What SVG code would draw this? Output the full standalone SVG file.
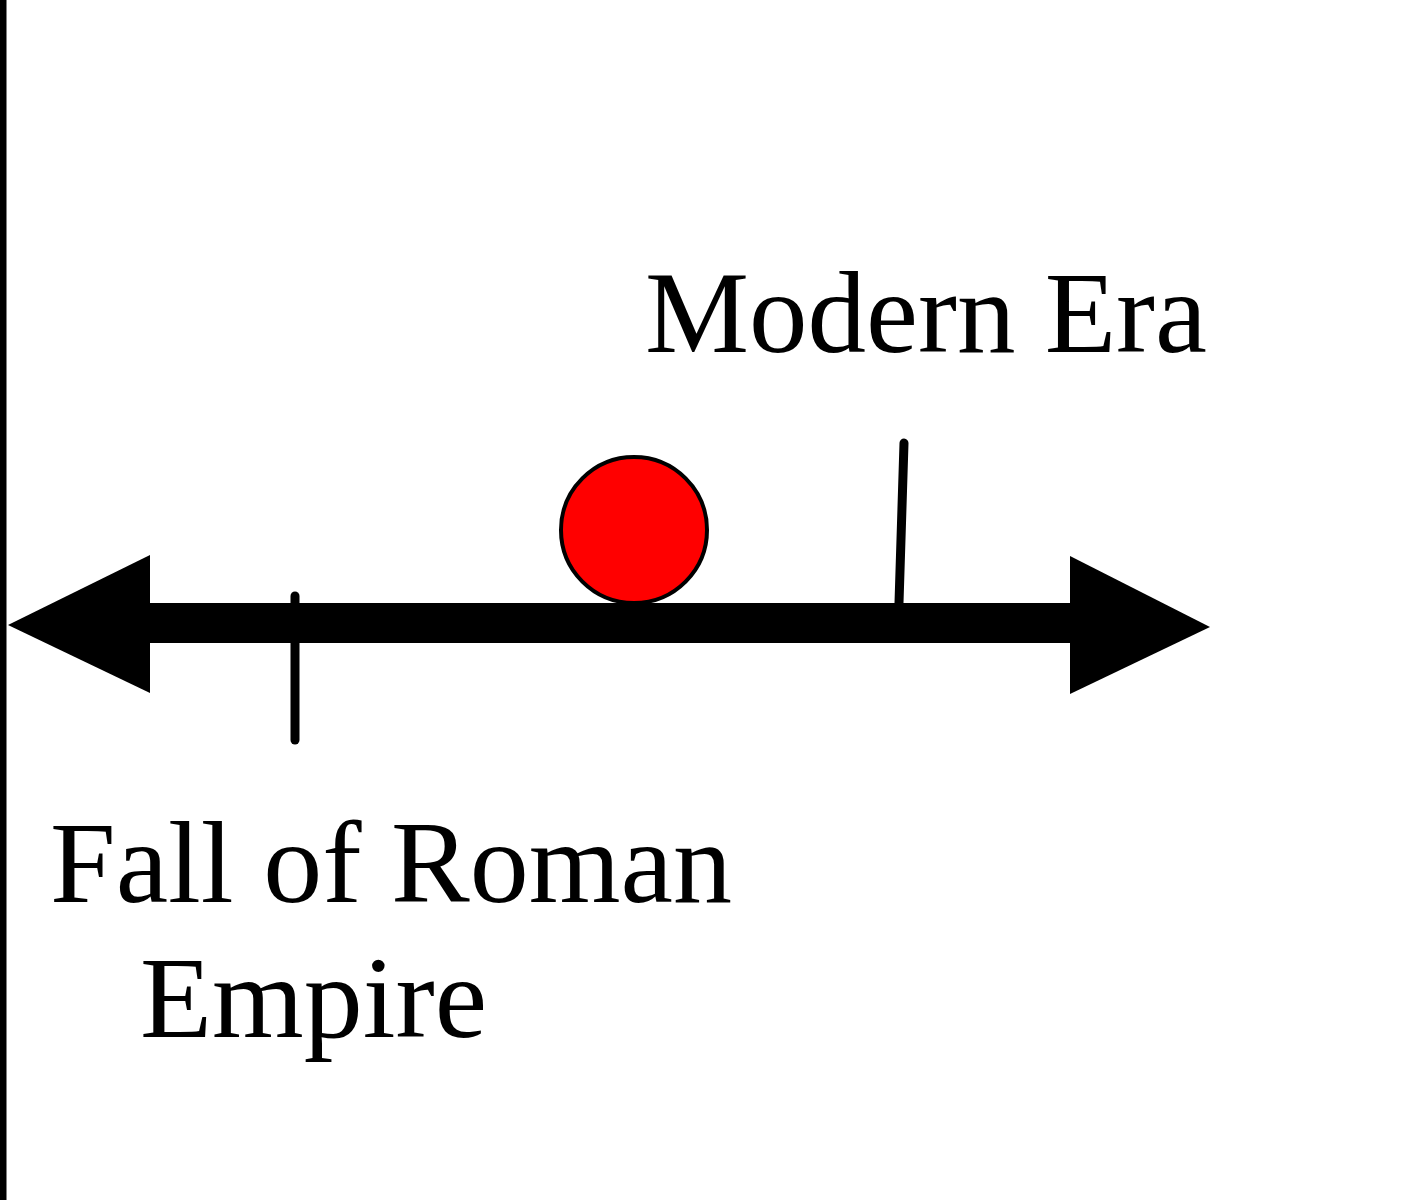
<svg xmlns="http://www.w3.org/2000/svg" width="1428" height="1200" viewBox="0 0 1428 1200">
<style>
.lbl{font-family:"Liberation Serif","Times New Roman",serif;font-size:117px;fill:#000}
.tick{stroke:#000;stroke-width:9;stroke-linecap:round;fill:none}
</style>
<rect width="1428" height="1200" fill="#fff"/>
<line x1="3" y1="0" x2="3" y2="1200" stroke="#000" stroke-width="7"/>
<g id="connectors">
<g id="timeline">
<rect x="148" y="603" width="925" height="40" fill="#000"/>
<polygon points="8,625 150,555 150,693" fill="#000"/>
<polygon points="1210,627 1070,556 1070,694" fill="#000"/>
</g>
<line class="tick" x1="295" y1="596" x2="295" y2="740"/>
<line class="tick" x1="904" y1="443" x2="899" y2="603"/>
</g>
<g id="marker">
<circle cx="634" cy="530" r="73" fill="#f00" stroke="#000" stroke-width="4"/>
<rect x="560" y="603" width="150" height="3" fill="#000"/>
</g>
<g id="label-modern">
<text class="lbl" x="645" y="352" textLength="562" lengthAdjust="spacingAndGlyphs">Modern Era</text>
</g>
<g id="label-rome">
<text class="lbl" x="50" y="902" textLength="682" lengthAdjust="spacingAndGlyphs">Fall of Roman</text>
<text class="lbl" x="140" y="1037" textLength="347" lengthAdjust="spacingAndGlyphs">Empire</text>
</g>
</svg>
